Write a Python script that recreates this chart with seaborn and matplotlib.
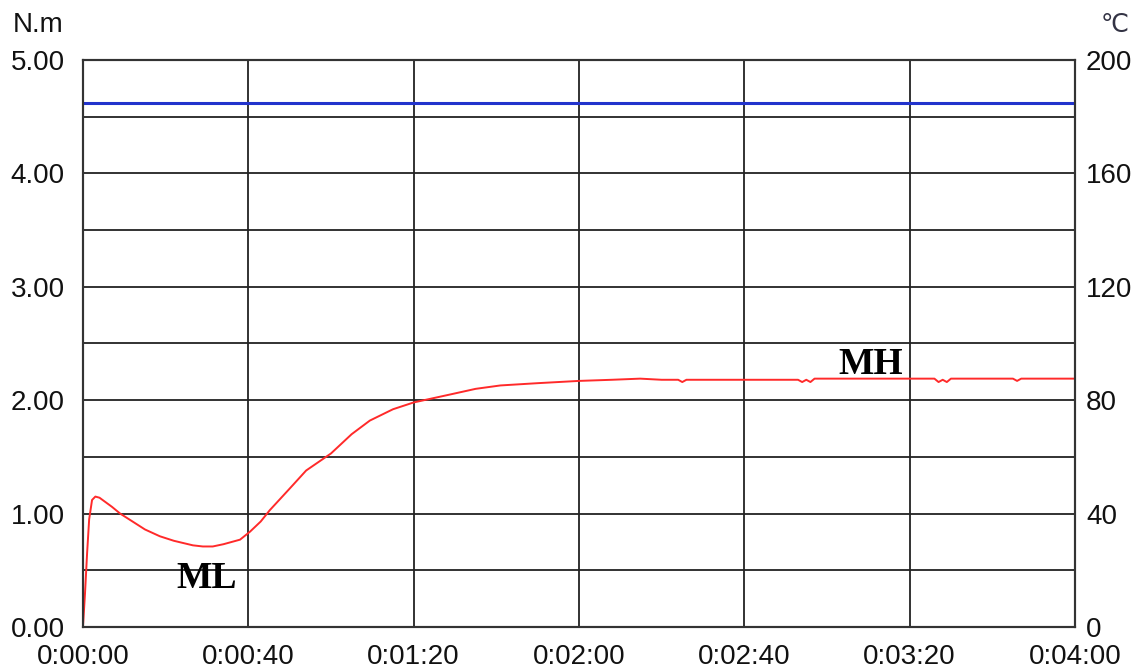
import matplotlib
matplotlib.use("Agg")
import matplotlib.pyplot as plt
import seaborn as sns
import pandas as pd

# rheometer curve
time_s = [0, 0.5, 1.0, 1.5, 2.2, 3.0, 4.0, 5.5, 7.0, 9.0, 12.0, 15.0, 18.6, 22.0, 26.6, 29.0, 31.4, 34.0, 38.0,
          40.4, 43.0, 45.2, 50.0, 54.0, 60.0, 65.0, 69.4, 75.0, 80.0, 88.8, 95.0, 101.0, 110.0, 120.0, 128.0,
          134.8, 140.0, 144.0, 145.0, 146.0, 160.0, 173.0, 174.0, 175.0, 176.0, 177.0, 190.0, 206.0, 207.0,
          208.0, 209.0, 210.0, 225.0, 226.0, 227.0, 240.0]
torque = [0.0, 0.30, 0.65, 0.95, 1.12, 1.15, 1.14, 1.10, 1.06, 1.00, 0.93, 0.86, 0.80, 0.76, 0.72, 0.71, 0.71,
          0.73, 0.77, 0.84, 0.93, 1.03, 1.22, 1.38, 1.53, 1.70, 1.82, 1.92, 1.98, 2.05, 2.10, 2.13, 2.15, 2.17,
          2.18, 2.19, 2.18, 2.18, 2.16, 2.18, 2.18, 2.18, 2.16, 2.18, 2.16, 2.19, 2.19, 2.19, 2.16, 2.18,
          2.16, 2.19, 2.19, 2.17, 2.19, 2.19]
temp_time = [0, 240]
temp_c = [185, 185]

x_ticks = [0, 40, 80, 120, 160, 200, 240]
x_labels = ["0:00:00", "0:00:40", "0:01:20", "0:02:00", "0:02:40", "0:03:20", "0:04:00"]
y_ticks = [0, 1, 2, 3, 4, 5]
y2_ticks = [0, 40, 80, 120, 160, 200]

df = pd.DataFrame({"t": time_s, "torque": torque})
df_temp = pd.DataFrame({"t": temp_time, "temp": temp_c})

sns.set_style("white")
plt.rcParams['font.family'] = ['Liberation Sans', 'DejaVu Sans']
plt.rcParams['text.color'] = '#111111'
plt.rcParams['xtick.color'] = '#111111'
plt.rcParams['ytick.color'] = '#111111'

fig = plt.figure(figsize=(11.38, 6.68), dpi=100)
ax = fig.add_axes([0.0729, 0.0614, 0.8717, 0.8488])
ax2 = ax.twinx()

sns.lineplot(data=df, x="t", y="torque", ax=ax, color="#ff2a2a", linewidth=1.4)
sns.lineplot(data=df_temp, x="t", y="temp", ax=ax2, color="#2233cc", linewidth=2.2)

ax.set_xlim(0, 240)
ax.set_ylim(0, 5)
ax2.set_ylim(0, 200)

ax.set_xticks(x_ticks)
ax.set_xticklabels(x_labels)
ax.set_yticks(y_ticks)
ax.set_yticklabels([f"{v:.2f}" for v in y_ticks])
ax.set_yticks([0.5, 1.5, 2.5, 3.5, 4.5], minor=True)
ax2.set_yticks(y2_ticks)
ax2.set_yticklabels([str(v) for v in y2_ticks])

ax.grid(True, which="both", color="#222222", linewidth=1.3)
ax.set_axisbelow(True)
ax.tick_params(axis="y", which="both", length=0, pad=13, labelsize=20)
ax.tick_params(axis="x", length=0, pad=12, labelsize=20)
ax2.tick_params(axis="y", length=0, pad=8, labelsize=20)
ax.set_xlabel("")
ax.set_ylabel("")
ax2.set_xlabel("")
ax2.set_ylabel("")

for a in (ax, ax2):
    for s in a.spines.values():
        s.set_color("#333333")
        s.set_linewidth(1.5)

fig.text(0.011, 0.952, "N.m", fontsize=20, ha="left", va="baseline")
fig.text(0.967, 0.952, "℃", fontsize=18, ha="left", va="baseline", color="#333344")

ax.text(30, 0.34, "ML", fontsize=27, fontweight="bold", family="Liberation Serif", ha="center",
        va="baseline", color="black")
ax.text(190.5, 2.23, "MH", fontsize=27, fontweight="bold", family="Liberation Serif", ha="center",
        va="baseline", color="black")

fig.savefig("out.png", dpi=100)
